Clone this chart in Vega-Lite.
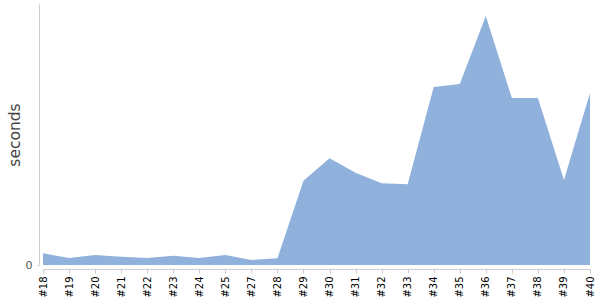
{
  "$schema": "https://vega.github.io/schema/vega-lite/v6.json",
  "autosize": "none",
  "width": 547,
  "height": 261,
  "padding": {"left": 43, "top": 4, "right": 10, "bottom": 35},
  "background": "white",
  "config": {"view": {"stroke": null}, "font": "DejaVu Sans"},
  "data": {"values": [
    {"build": "#18", "seconds": 11.7},
    {"build": "#19", "seconds": 7},
    {"build": "#20", "seconds": 10},
    {"build": "#21", "seconds": 8.3},
    {"build": "#22", "seconds": 7},
    {"build": "#23", "seconds": 9.3},
    {"build": "#24", "seconds": 7},
    {"build": "#25", "seconds": 10},
    {"build": "#27", "seconds": 5},
    {"build": "#28", "seconds": 6.7},
    {"build": "#29", "seconds": 84.3},
    {"build": "#30", "seconds": 106.7},
    {"build": "#31", "seconds": 92.3},
    {"build": "#32", "seconds": 81.7},
    {"build": "#33", "seconds": 80.7},
    {"build": "#34", "seconds": 178},
    {"build": "#35", "seconds": 181},
    {"build": "#36", "seconds": 249},
    {"build": "#37", "seconds": 167},
    {"build": "#38", "seconds": 167},
    {"build": "#39", "seconds": 85},
    {"build": "#40", "seconds": 172}
  ]},
  "mark": {"type": "area", "color": "#8fb1db", "opacity": 1},
  "encoding": {
    "x": {
      "field": "build", "type": "ordinal", "sort": null,
      "scale": {"type": "point", "padding": 0},
      "axis": {
        "title": null, "labelAngle": -90, "labelAlign": "right", "labelBaseline": "middle",
        "labelFontSize": 10, "labelColor": "#000", "domainColor": "#ccc", "tickColor": "#ccc",
        "tickSize": 4, "labelPadding": 3, "offset": 4, "grid": false
      }
    },
    "y": {
      "field": "seconds", "type": "quantitative",
      "scale": {"domain": [0, 261], "nice": false},
      "axis": {
        "title": "seconds", "titleFontSize": 15.5, "titleFontWeight": "normal", "titleColor": "#444",
        "titlePadding": 3,
        "values": [0], "ticks": true, "tickSize": 2, "tickColor": "#ccc",
        "labelFontSize": 11, "labelColor": "#555",
        "domainColor": "#ccc", "offset": 4, "grid": false, "labelPadding": 5
      }
    }
  }
}
